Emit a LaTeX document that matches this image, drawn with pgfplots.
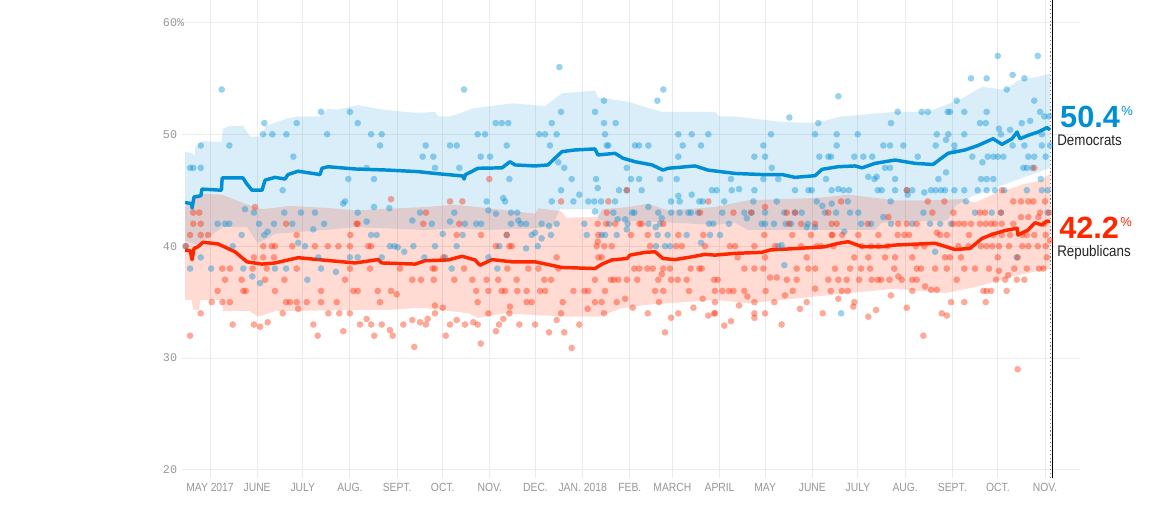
\documentclass[border=0pt]{standalone}
\usepackage{pgfplots}
\pgfplotsset{compat=1.18}
\usepackage{fontspec}
\setmainfont{Liberation Sans}
\newfontfamily\narrow[FakeStretch=0.87]{Liberation Sans}
\newfontfamily\monof{Liberation Mono}
\definecolor{dem}{RGB}{0,143,213}
\definecolor{rep}{RGB}{255,39,0}
\definecolor{gridc}{RGB}{235,235,235}
\definecolor{tickc}{RGB}{150,150,150}
\definecolor{labc}{RGB}{34,34,34}
\begin{document}
\begin{tikzpicture}
\begin{axis}[
  x=1.14075pt, y=8.3925pt,
  xmin=-18.6, xmax=572, ymin=19.28, ymax=62,
  clip=false,
  axis line style={draw=none},
  major tick length=0pt,
  grid=major,
  major grid style={gridc, line width=0.75pt},
  xtick={0,31,61,92,123,153,184,214,245,276,304,335,365,396,426,457,488,518,549},
  xticklabels={MAY 2017,JUNE,JULY,AUG.,SEPT.,OCT.,NOV.,DEC.,JAN. 2018,FEB.,MARCH,APRIL,MAY,JUNE,JULY,AUG.,SEPT.,OCT.,NOV.},
  xticklabel style={font=\narrow\fontsize{8.9}{10}\selectfont, text=tickc, inner sep=0pt, anchor=north, yshift=-3.75pt},
  ytick={20,30,40,50,60},
  yticklabels={20,30,40,50,{60\%}},
  yticklabel style={font=\monof\fontsize{8.8}{10}\selectfont, text=tickc, inner sep=0pt, anchor=west, xshift=-14.25pt},
]
% bands
\addplot[draw=none, fill=dem, fill opacity=0.15] coordinates {
(-16.4,48.45) (-12,48.3) (-10,48.1) (-9.9,48.8) (-4.6,49.4) (7.7,49.3) (8.5,50.5) (13,50.75) (21.7,50.75) (26.3,49.8) (34.8,49.8) (36.2,50.7) (50.5,51.4) (57,51.6) (72.3,51.6) (77.6,52.3) (83.5,52.2) (97.3,52.6) (113.7,52.2) (136.1,51.9) (147.9,52.0) (149.9,51.6) (157.8,51.6) (165,51.9) (172.3,52.3) (198.6,52.77) (213.7,52.6) (220,52.5) (231.4,53.66) (253.1,53.9) (255.1,53.3) (274.8,52.9) (297,52.0) (332,52.0) (335,51.6) (345.2,51.6) (376.1,51.1) (397.8,51.0) (415.3,51.6) (450.4,52.0) (472.1,52.0) (494.4,53.2) (507.6,54.25) (522.7,53.96) (531.2,54.8) (542.4,55.1) (552.3,55.4)
(552.3,47.0) (520,45.4) (500,44.4) (490,43.6) (485,42.3) (441.8,42.1) (437.2,41.45) (353.7,41.45) (345.2,42.1) (332,41.9) (290,42.2) (255.1,42.3) (254.4,43.3) (230.1,43.3) (225,41.8) (213.7,41.6) (182.8,41.45) (161.1,41.6) (143.3,41.45) (95.3,41.7) (75.6,41.45) (42.7,41.1) (31.6,40.25) (24.3,41.7) (8.5,41.7) (-4,40.5) (-6.6,40.0) (-16.4,40.5)
};
\addplot[draw=none, fill=rep, fill opacity=0.17] coordinates {
(-16.4,43.5) (-6.6,44.7) (8,44.6) (23,43.8) (34.2,43.3) (52.6,43.6) (78.9,43.4) (95.3,43.2) (141.4,43.5) (161.1,43.7) (182.8,43.4) (213.7,42.9) (216,43.4) (231.4,43.1) (234,42.55) (255,42.6) (258,43.3) (274.8,43.5) (288,43.8) (301.1,43.2) (332,43.5) (353.7,44.1) (397.8,44.3) (419.5,44.6) (450.4,44.1) (472.1,44.1) (494.4,44.2) (503,43.9) (516.1,44.7) (533.9,45.5) (547,45.9) (552.3,46.5)
(552.3,38.0) (527.3,37.3) (504.9,36.4) (483.2,35.8) (450.4,36.2) (419.5,35.8) (397.8,35.5) (376.1,35.2) (353.7,34.9) (332,35.2) (301.1,34.9) (286,34.75) (270.9,34.45) (255.1,33.7) (235.4,33.7) (213.7,33.85) (194,34.0) (176.2,33.6) (170,34.0) (161.1,34.15) (139,34.5) (117,34.3) (95.3,34.3) (42.7,34.2) (31.6,33.7) (26,34.2) (8.5,34.2) (8,35.2) (-6.6,35.2) (-7,34.3) (-11,34.3) (-12,35.2) (-16.4,35.2)
};
% Democratic polls
\addplot[only marks, mark=*, mark size=2.5pt, mark options={draw opacity=0, fill=dem, fill opacity=0.4}] coordinates {
(7.7,54) (73,52) (92,52) (35.7,51) (57,51) (34.8,50) (41,50) (50.2,50) (77,50) (-6.1,49) (12.7,49) (54.8,48) (-13.1,47) (-11,47) (-6.1,47) (90.9,46) (47.8,45) (88.8,44) (87.5,43.8) (23,43.3) (28.9,43) (48.8,43) (59.8,43) (69,43) (5,42) (9.9,42) (12.7,42) (32.2,42) (42.1,42) (54.1,42) (75,42) (67.9,41.5) (20.8,41) (35.7,41) (37.9,41.3) (58,40.3) (14.9,40) (62.5,40) (-6.1,39) (71.2,39) (92,39) (-13.1,38) (0.7,38) (21.9,38) (42.7,38) (50,38) (73,38) (82.8,37.7) (27.8,37.3) (32.9,36.7) (64,37) (-16,40)
(167,54) (97.1,51) (187.8,51) (191.8,51) (196.1,51) (105.9,50) (112.9,50) (176,50) (180.8,50) (111.8,49) (141.8,49) (157.8,49) (162.2,49) (195.1,49) (139.8,48) (146.8,48) (178,48) (184.1,48) (103,47) (147.9,47) (163.9,47) (107.8,46) (196.8,46) (192.8,44.3) (194,44) (181.9,44) (107.8,43.5) (117.9,43.4) (97.1,43) (138.1,43) (160.6,43) (183,43.2) (188,42.9) (197.9,43) (202,43) (103,42.2) (133,42.3) (145.8,42) (157.8,42.2) (167.6,42) (175,42) (178.2,42) (197.9,42) (202.7,42.3) (204.3,42) (207.8,42) (153,41.1) (166.1,41) (195.1,41) (211.5,41) (105.9,41) (109.6,41) (118.3,40) (121.2,40) (123.4,39.9) (133.7,40) (147.9,40) (162.2,40) (190.2,40) (207.8,39.8) (127.7,39.5) (97.1,39) (112.9,39) (140.9,39) (154.5,39) (183,39) (188.9,38) (158.9,38)
(229.7,56) (298,54) (294.1,53) (259,53) (230.8,52) (253.1,52) (224.7,51) (259,51) (266.7,51) (216.5,50) (220.3,50) (227.9,50) (259.7,50) (307.9,50) (316.7,50) (327.6,50) (223.5,49) (260.8,49) (261.9,49) (279.4,49) (282.1,49) (288.2,49) (310.8,49) (322.8,49) (307.9,48) (229,47.5) (274,47) (232.9,47) (253.8,46) (276.8,46) (282.1,46) (295.9,46) (306.8,46) (237.8,46) (230.8,45) (254.9,45.2) (268.9,45) (274,45) (283.8,45) (330,45) (242.8,44.6) (307.9,44.5) (316.7,44.6) (224.7,44) (238.9,44) (248.7,44) (252.7,44) (257.1,44) (266.3,44) (303.1,44) (308.8,44) (321.7,44) (323.9,44) (253.1,43.1) (265.2,43) (277.6,43) (279,43) (288.2,43.5) (294.7,43) (303.1,43) (308.8,43) (314.5,43) (316.2,43) (321,43) (218,42) (222.9,41.8) (227.9,42) (246.1,42) (262.5,42) (268,42.4) (272.9,42.4) (274.6,42) (288.2,42) (293,41.7) (295.9,42) (297,42.5) (328.1,42) (330.9,42) (213.7,41.2) (224.2,41) (247.7,41) (257.5,41) (259.7,41) (267.4,41) (274,41.5) (294.3,41) (300.9,41) (313.4,41) (322.8,40.3) (328.7,41) (218,40.7) (215.5,40) (293.2,40) (299.1,40) (302.4,40)
(413.1,53.4) (380.9,51.5) (399.9,51) (447.7,51) (368.8,50) (397.8,50) (412,50) (425.8,50) (363.8,49) (412,49) (442.7,49) (447.1,49) (357.9,48) (364.9,48) (400.6,48) (406.5,48) (408.3,48) (423.6,48) (429.5,48) (435.4,48) (443.8,47) (447.1,47) (369.3,47) (342.5,46) (363.8,46) (373.6,46) (405,46) (432.8,46.2) (436.8,46) (438.3,46.2) (333.1,45) (343,45) (347.8,45.1) (357.9,45) (384.6,45) (393.4,45) (395.6,45) (408.7,45) (413.1,45.1) (416.4,45) (420.1,45) (439,45) (441.6,45) (450.4,45) (338.1,44) (357.2,44) (372.6,44) (398.9,44) (402.6,43.6) (408.7,43.8) (419.3,44) (447.5,44) (336.8,43) (351.3,43) (356.1,43) (364.9,43) (377.6,43) (384.6,43) (389,43) (404.3,43) (411.6,43) (420.8,43) (426.2,43) (442.7,42.6) (341.2,42) (352.9,42.5) (362.7,42) (364.9,42) (370.8,42) (378.5,42) (382,42) (392.3,41.7) (393,42) (397.8,41.7) (417,41.3) (428,42) (434.6,42) (447.7,42) (335.3,41) (373.6,40) (375.8,40.1) (377.6,38.3) (414.9,34)
(517.9,57) (544.2,57) (527.7,55.3) (500.3,55) (510.6,55) (535.4,55) (523.8,54) (490.9,53) (541.9,53) (452.1,52) (467.9,52) (471.9,52) (485,52) (486.5,52) (495.9,52) (510.6,52) (545.7,52) (548.5,51.6) (551.6,51.6) (506.2,51) (510,51) (533.7,51) (539.2,51.2) (477.8,50) (485.4,50) (495.9,50) (518.7,50.5) (520,50) (526,50.4) (546.9,50) (455.8,49) (477.1,49) (489.4,49) (527.7,49) (535.4,49) (546.9,49) (552.3,49) (483.9,49.5) (465.3,48) (489.4,48.5) (501.2,48) (507.8,47.5) (511.3,48) (515,48) (517.9,48) (521.6,48) (538,48) (541.9,48) (549.4,48) (450.4,46) (478.9,46) (483.9,46.6) (506.9,46) (510.6,46) (515,46) (534.7,47) (537,47) (540.6,47) (546.2,46) (458.1,45) (461.7,45) (474,45) (477.1,45) (480.6,45) (483.2,45) (489.4,45) (495.9,45) (504.7,45) (510.6,45) (516.1,45) (522.2,45) (537,45) (546.9,45) (550.7,45) (458.7,44.6) (469.6,44.8) (497,44) (469,43) (502.9,43) (513.9,43) (520,43) (550.7,43) (461.7,42) (473.4,42) (480,42) (487.2,42) (476.7,39.5) (530.4,39)
};
% Republican polls
\addplot[only marks, mark=*, mark size=2.5pt, mark options={draw opacity=0, fill=rep, fill opacity=0.4}] coordinates {
(-11,43) (-7,43) (-11,42) (-6.1,42) (-13.1,41) (-6.1,41) (-1.3,41) (29.6,43.5) (57,41) (92.3,41) (-16,40) (35,40) (40.6,40) (42.7,40) (54.1,40) (69,40) (77.4,40) (84.4,40) (92,40) (28.9,39) (35,39) (42.1,39) (8.1,38) (13.1,38) (28,38) (37.3,38) (57,38) (92,38) (9.9,37) (20.8,37) (36.2,37) (48.9,37) (88.8,37) (5,36) (21.9,36) (23.5,36) (42.7,36) (73,36) (94.2,36) (1.1,35) (8.1,35) (13.1,35) (50,35) (52.6,35) (57,35) (63.6,35) (73,35) (83.3,35) (58,34.4) (-6.1,34) (47.8,34) (77.8,34) (85,34) (92,34) (14.9,33) (28.9,33) (37.9,33.2) (67.9,33) (32.9,32.8) (87.6,32.4) (-13.1,32) (70.8,32) (50,42) (96.4,42)
(183.6,46) (157.8,44) (165.9,44) (119,44.2) (142,43) (97.1,42) (140.2,42) (163.9,42) (178.2,41) (195.1,41) (162.2,41) (104.1,40) (105.9,40) (188,40) (196.8,40) (198.4,40) (153.4,39) (105.2,38) (124.9,38) (146.4,38) (147.9,38) (167,38) (195.5,38) (209.3,38) (133,37) (138.7,37) (147.1,37) (160.6,37) (172.5,37) (181.9,37) (189.5,37) (201.6,37) (97.1,36) (110.3,36) (119,36) (122.7,35.7) (175,36) (183,36) (191.7,36) (194,36) (202,36) (208.2,36) (111.8,35) (176,35) (208.2,35) (211.5,35) (147.9,34.7) (153,34.5) (197.2,34.6) (98.6,33) (103,33.5) (105.9,33) (112.9,33) (127.1,33) (133,33.4) (138.1,33.2) (141.9,33) (143.1,33.5) (147.9,34) (157.8,33) (162.2,33.4) (167.6,33) (173.1,33.2) (176,33) (183,34) (190,33) (192.8,33.5) (196.8,34) (203.4,33) (108,32) (118.3,32.5) (120.1,32) (134.3,31) (155,32) (178,31.3) (188,32.4)
(230.8,44) (261.9,44) (274,45) (260.8,43) (327.6,44) (322.2,43) (254.9,42) (260.4,42) (266.3,42) (282.3,42) (283.8,42) (298,42) (255.3,41) (276.8,41) (287.8,41) (307.9,41) (324.3,41) (254.9,40.4) (254.2,40) (259.2,40) (264.1,40) (289.3,40) (306.4,40) (310.2,40) (325.4,40) (227.9,39) (255.3,39) (257.5,39) (215.9,38) (229,38) (279,38) (282.3,38) (287.5,38) (291.1,38) (297,37.5) (298,38) (302.4,38) (316,38) (321.7,38) (323.3,38) (219.8,37) (224.2,37) (253.1,37) (263.6,37) (265.6,37) (268.5,37) (274,37) (280.9,37) (294.7,37) (303.1,37) (307.5,37) (313.4,37) (331.4,37) (217,36) (220.3,36) (238.9,36) (246.1,36) (248.7,36) (259.7,36) (292.6,36) (298,36) (314.9,36) (332,36) (231.9,35) (253.1,35) (257.5,35) (267.4,35) (272.9,35.3) (295.2,35) (323.9,35.3) (230.8,34) (248.3,34.4) (259,34) (277.9,34.5) (287.8,34) (307.9,34) (317.8,34.5) (327.6,33.8) (331.4,34) (213.7,33) (227.9,33.4) (242.8,33) (303.1,33.6) (222.9,32.3) (232.9,32.3) (299.1,32.3) (237.8,30.9)
(364.9,43.5) (414.9,44) (406.5,43) (412,42) (446,42.6) (344.1,43) (355.7,43) (379.2,43) (384.6,43) (388.6,42) (380.7,42) (397.8,42) (432.4,42) (408.7,42) (364.4,41) (382.8,41) (395.1,41) (408.7,41) (409.2,41) (415.6,41) (426.2,41) (439.4,41) (341.9,40) (345.2,40) (357.9,40) (371.5,40) (388.6,40) (398.9,40) (401.7,40) (409.8,40) (428.5,40) (434.6,40) (439.4,40) (445.6,40) (346.9,39) (364.9,39) (392.3,39) (423.6,39) (432.8,39) (443.8,39) (351.3,38) (357.9,38) (363.8,38) (385.7,38) (393.4,38) (397.8,38) (410.9,38) (420.8,38) (428,38) (434,38) (449.9,38) (333.8,37) (368.2,37.2) (372.6,37.2) (379.2,37) (385.7,37) (406.5,37) (413.1,37) (418.6,37) (426.8,37) (435,37) (439,37) (441.2,37) (446.7,37) (336.8,36) (341.2,36) (344.1,36) (351.3,36) (365.3,36) (378,35.6) (383.1,36) (397.8,36.2) (408.1,36) (415.4,36) (419.3,36) (447.7,35.6) (332,35) (353.3,35.5) (357.9,35) (371,35) (392.3,35) (413.1,35.3) (423.6,35) (422.9,34.6) (347.8,34.7) (387.9,34.4) (437.9,34.3) (332,34) (357.9,34) (364.9,34) (402.8,34) (432.8,33.7) (357.9,33.6) (342.5,33.3) (375.8,33) (338.1,32.9)
(458.1,45) (471.9,44) (482.8,44) (520.5,45) (541.9,47) (528.1,44) (533.2,44) (538,44) (541.3,44) (549,44) (474.9,43) (506.2,43) (509.5,43) (520,43) (545.7,43) (551.6,43) (488.7,43) (452.5,42) (458.1,42) (464.6,42) (488.7,42) (492.4,42) (495.9,42) (500.3,42) (506.2,42) (510,42) (513.5,42) (516.1,42) (520.5,42) (528.1,42) (533.2,42.6) (538,42.6) (544.6,42.6) (548.5,42) (452.1,41) (456.5,41) (459.6,41) (477.8,41.2) (480,41) (484.4,41) (499,41) (515,41) (520.5,41) (526,41) (534,41) (537,41) (541.9,41) (549.4,41) (552.3,40.5) (464,40) (469.6,40) (492,40) (498.6,40) (506.9,40) (510.6,40) (514.3,40) (518.7,40) (525.3,40) (534,40) (538,40) (544.2,40) (549.4,40) (450.4,39) (461.7,39) (483.2,39) (486.5,39) (493.7,39) (517.9,39) (531,39) (550.1,39) (464.6,38) (467.5,38) (476.7,38) (484.4,38) (495.9,38) (502.9,38) (512.2,38) (518.7,37.8) (528.8,38) (537,38) (545,38) (547.9,38) (452.5,37.3) (454.8,37) (461.7,37) (464.6,37) (474,36.1) (477.8,36.1) (490.9,37) (524.8,37.4) (535.4,37) (516.8,37) (522.7,37) (530.4,37) (461.7,36) (470.1,36.4) (510.6,36) (513.5,36) (523.8,36) (508.4,36) (487.2,35) (495.9,35) (510,35) (458.1,34.5) (481.1,34) (484.4,33.8) (469,32) (531,29)
};
% averages
\addplot[dem, line width=2.6pt, line join=round] coordinates {
(-16.4,43.9) (-12,43.8) (-11.8,43.4) (-10.5,44.4) (-6,44.5) (-5.3,45.1) (7.5,45.0) (8,46.1) (21.7,46.1) (24,45.6) (27.6,45.0) (34.2,45.0) (36.2,45.9) (42.7,46.15) (49.3,46.0) (51.3,46.4) (57.9,46.7) (72.3,46.4) (73.6,46.96) (77.6,47.1) (95.3,46.9) (117,46.8) (136.8,46.66) (147.9,46.5) (166.3,46.27) (167,46.0) (168,46.4) (176.2,46.96) (192,47.0) (197.2,47.55) (200.5,47.26) (213.7,47.17) (222.2,47.26) (225.5,47.7) (231.4,48.45) (240,48.6) (253.1,48.69) (255.1,48.15) (266.3,48.3) (271.5,47.86) (279.4,47.55) (290.6,47.26) (297.8,46.8) (301.1,46.96) (318.9,47.17) (327.4,46.8) (345.2,46.5) (362.9,46.4) (376.1,46.4) (384.6,46.15) (397.8,46.3) (402.4,46.87) (412.9,47.1) (424.1,47.17) (428.7,47.0) (437.2,47.4) (450.4,47.7) (463.5,47.4) (475.3,47.3) (485.2,48.3) (496.4,48.6) (504.9,49.0) (514.8,49.6) (520.7,49.1) (527.3,49.6) (530.6,50.2) (532.5,49.6) (537.8,49.9) (544.4,50.2) (550.3,50.6) (552.3,50.4)
};
\addplot[rep, line width=2.6pt, line join=round] coordinates {
(-16.4,39.66) (-13,39.6) (-11.8,38.8) (-10.5,39.8) (-7.9,39.95) (-4.6,40.35) (5.3,40.2) (16.4,39.5) (24.3,38.6) (34.2,38.4) (42.7,38.5) (57.9,38.97) (73.6,38.77) (95.3,38.5) (110.5,38.8) (112.9,38.5) (134.8,38.4) (141.4,38.7) (156.5,38.77) (165.7,39.1) (174.2,38.77) (177.5,38.3) (185.4,38.8) (198.6,38.6) (213.7,38.6) (231.4,38.1) (253.1,38.0) (257.7,38.4) (264.3,38.77) (274.2,38.9) (276.1,39.2) (286,39.45) (292.6,39.5) (297.8,38.9) (305.7,38.8) (316.9,39.05) (325.4,39.27) (332,39.2) (345.2,39.36) (362.9,39.45) (368.2,39.66) (386.6,39.8) (404.3,39.95) (412.9,40.25) (419.5,40.4) (428.7,39.95) (441.8,39.95) (450.4,40.1) (476.7,40.26) (489.8,39.7) (499.7,39.8) (507.6,40.7) (514.2,41.05) (522.7,41.4) (530.6,41.6) (531.2,41.0) (537.8,41.45) (542.4,42.1) (547,41.9) (550.3,42.25) (552.3,42.2)
};
% election day line
\addplot[gray, dotted, line width=0.9pt] coordinates {(552.8,19.28) (552.8,62)};
\addplot[black, line width=0.75pt] coordinates {(553.7,19.28) (553.7,62)};
% labels
\node[anchor=base west, inner sep=0pt, text=dem, font=\bfseries\fontsize{23}{23}\selectfont] at (axis cs:558.8,50.62) {50.4\kern1pt\raisebox{9pt}{\mdseries\fontsize{9.75}{10}\selectfont\%}};
\node[anchor=base west, inner sep=0pt, text=labc, font=\narrow\fontsize{11.5}{12}\selectfont] at (axis cs:556.9,49.02) {Democrats};
\node[anchor=base west, inner sep=0pt, text=rep, font=\bfseries\fontsize{23}{23}\selectfont] at (axis cs:558.2,40.65) {42.2\kern1pt\raisebox{9pt}{\mdseries\fontsize{9.75}{10}\selectfont\%}};
\node[anchor=base west, inner sep=0pt, text=labc, font=\narrow\fontsize{11.5}{12}\selectfont] at (axis cs:556.9,39.12) {Republicans};
\coordinate (BL) at (axis cs:-138.07,16.336);
\coordinate (TR) at (axis cs:622.6,62.0);
\end{axis}
\pgfresetboundingbox
\path[use as bounding box] (BL) rectangle (TR);
\end{tikzpicture}
\end{document}
